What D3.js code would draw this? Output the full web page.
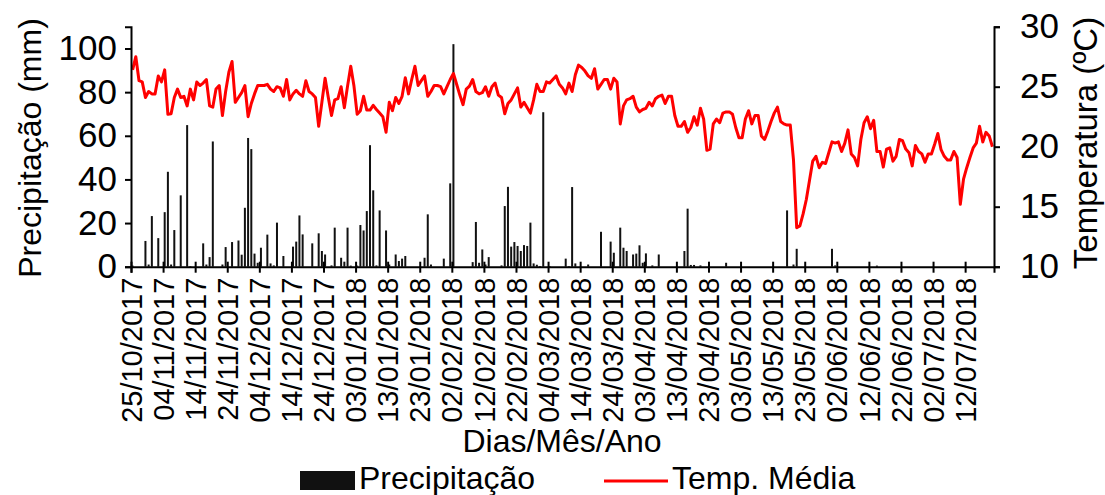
<!DOCTYPE html>
<html>
<head>
<meta charset="utf-8">
<script src="https://cdn.jsdelivr.net/npm/d3@7"></script>
<style>
  html, body { margin: 0; padding: 0; background: #fff; }
  svg { display: block; font-family: "Liberation Sans", Arial, sans-serif; }
</style>
</head>
<body>
<svg id="chart" width="1105" height="495"></svg>
<script>
// Daily series, 25/10/2017 to 20/07/2018 (one value per day)

// Daily rainfall (mm)
const precipitacao = [
  0.5,0,0,0,11.8,1,23.2,0,13.1,0,
  25,43.5,1,16.8,0,32.7,0,64.9,0.3,0,
  0,0,10.7,1,4.4,57.4,0,0,1,9,
  0,11.3,0,12,5.5,27,59,53.9,6,1.8,
  8.7,0,14.7,1.5,0.6,20.2,0,4.9,0,0,
  9.2,11.5,23.5,14.8,0,0,10.7,0,15.3,7.2,
  5.6,0,0.6,17.9,0,4.1,2.3,17.9,0.5,0,
  0.5,19.1,16.6,25.5,55.7,35,0.6,25.8,0,16.6,
  1,0,5.6,2.6,3.7,4.9,0,0,0,0,
  0,4.1,24,1,0,0,0,3.7,0,38.2,
  102,0,0,0,0,0,2.1,20.5,1.8,7.9,
  1,4.4,0,0,0,0.6,27.8,36.6,9.2,11.3,
  9.5,7.2,9.9,9.5,20.2,1.5,0.9,0.3,70.8,0,
  0.3,0,0,0,0,3.7,0.3,36.5,1.5,0,
  0,0,1,0,0,0,16,0,0,11.5,
  6.4,0,17.9,8.7,7.2,0,5.6,6,9.8,1.8,
  6.1,0,0.6,0,5.6,0,0,0,0,0,
  0,0,7.2,26.6,0.8,0.8,0,0.6,0,0,
  0,0,0,0,0,1.8,0,0,0,0,
  0,0,0,0,0,0,0,0,0,0,
  0,0,0,0,25.8,0,1,8.2,0,0,
  0,0,0,0,0,0,0,0,8.2,0.6,
  0,0,0,0,0,0,0,0,0,0,
  0,0,0.5,0,0,0,0,0,0,0,
  0,0,0,0,0,0,0,0,0,0,
  0,0,0,0,0,0,0,0,0,0,
  0,0,0,0,0,0,0,0,0
];

// Daily mean temperature (ºC)
const tempMedia = [
  26.4,27.5,25.5,25.4,24.1,24.6,24.4,24.4,25.9,25.4,
  26.4,22.7,22.75,24.1,24.8,24.1,24.2,23.4,24.8,23.9,
  25.4,25.1,25.3,25.6,23.4,23.3,24.8,25.1,22.6,24.6,
  26.2,27.1,23.7,24.1,24.5,25.1,22.5,23.6,24.4,25.1,
  25.1,25.1,25.2,24.8,24.6,25.0,24.9,24.2,25.6,23.9,
  24.4,24.7,24.4,24.2,25.5,24.6,24.4,24.1,21.7,23.7,
  25.7,24.1,22.6,23.9,24.0,25.0,23.25,25.05,26.7,25.05,
  22.7,23.0,24.2,23.05,23.05,23.45,23.1,22.8,22.5,21.2,
  23.7,23.0,24.1,23.6,24.2,25.75,24.4,25.6,26.7,25.1,
  25.5,25.9,24.2,24.6,25.1,25.1,25.0,24.4,25.0,25.6,
  26.1,25.2,24.3,23.5,24.8,25.05,25.6,24.6,24.4,24.5,
  25.0,24.2,25.0,25.3,24.3,24.1,22.75,23.6,23.9,24.4,
  24.9,23.3,23.7,23.25,22.8,23.9,25.2,24.6,24.6,25.4,
  25.3,25.6,25.9,25.2,24.9,24.4,25.3,24.6,26.0,26.8,
  26.6,26.3,25.9,25.7,26.5,24.8,25.2,25.6,25.6,24.8,
  25.7,25.4,21.9,23.4,23.9,24.0,24.2,23.3,22.9,23.1,
  23.2,23.7,23.4,24.0,24.2,24.3,23.6,24.2,24.2,22.6,
  21.7,21.7,22.1,21.2,21.6,22.5,21.8,23.2,22.3,19.7,
  19.8,21.9,22.3,22.0,22.8,22.9,22.9,22.7,21.6,20.75,
  20.75,22.3,23.0,21.9,22.6,22.6,20.9,20.6,21.3,22.1,
  22.8,23.3,22.1,21.9,21.8,21.8,18.9,13.25,13.4,14.4,
  15.6,17.2,18.8,19.2,18.25,18.7,18.6,19.5,20.4,20.3,
  20.4,19.6,20.3,21.4,19.4,19.1,18.4,20.6,22.0,22.5,
  21.5,22.2,19.6,19.6,18.3,19.8,19.9,18.8,19.2,20.6,
  20.5,19.8,19.5,18.4,20.1,19.6,19.4,18.7,19.4,19.4,
  20.2,21.1,19.75,19.2,18.9,18.9,19.6,19.1,15.2,17.3,
  18.25,19.1,19.9,20.3,21.7,20.4,21.2,20.9,20.0
];

// Date labels, one every 10 days
const tickLabels = [
  "25/10/2017","04/11/2017","14/11/2017","24/11/2017","04/12/2017","14/12/2017",
  "24/12/2017","03/01/2018","13/01/2018","23/01/2018","02/02/2018","12/02/2018",
  "22/02/2018","04/03/2018","14/03/2018","24/03/2018","03/04/2018","13/04/2018",
  "23/04/2018","03/05/2018","13/05/2018","23/05/2018","02/06/2018","12/06/2018",
  "22/06/2018","02/07/2018","12/07/2018"
];
const precipTicks = [0, 20, 40, 60, 80, 100];
const tempTicks = [10, 15, 20, 25, 30];

const svg = d3.select("#chart");
const plotLeft = 131, plotRight = 994, plotTop = 26.7, plotBottom = 266.7;
const nDays = tempMedia.length;

const x = d3.scaleLinear().domain([0, nDays]).range([plotLeft, plotRight]);
const yP = d3.scaleLinear().domain([0, 110]).range([plotBottom, plotTop]);
const yT = d3.scaleLinear().domain([10, 30]).range([plotBottom, plotTop]);

// Rainfall bars
svg.append("g")
  .selectAll("rect")
  .data(precipitacao)
  .join("rect")
  .attr("x", (d, i) => x(i + 0.5) - 1)
  .attr("width", 2)
  .attr("y", d => yP(d))
  .attr("height", d => yP(0) - yP(d))
  .attr("fill", "#111");

// Mean temperature line
svg.append("path")
  .datum(tempMedia)
  .attr("fill", "none")
  .attr("stroke", "#ff0000")
  .attr("stroke-width", 3)
  .attr("stroke-linejoin", "round")
  .attr("d", d3.line().x((d, i) => x(i + 0.5)).y(d => yT(d)));

// Bottom axis with rotated date labels
const gx = svg.append("g")
  .attr("transform", `translate(0,${plotBottom})`)
  .call(d3.axisBottom(x)
    .tickValues(d3.range(0, 261, 10))
    .tickFormat((d, i) => tickLabels[i])
    .tickSizeOuter(0)
    .tickSize(6));
gx.selectAll(".tick line").attr("y1", -5).attr("y2", 6);
gx.selectAll(".tick text")
  .attr("transform", "rotate(-90)")
  .attr("text-anchor", "end")
  .attr("x", -11)
  .attr("y", 0)
  .attr("dy", "0.35em")
  .style("font-size", "29px");

// Left axis: rainfall
const gl = svg.append("g")
  .attr("transform", `translate(${plotLeft},0)`)
  .call(d3.axisLeft(yP).tickValues(precipTicks).tickSizeOuter(0).tickSize(6).tickPadding(8));
gl.selectAll(".tick text").style("font-size", "35px");

// Right axis: temperature
const gr = svg.append("g")
  .attr("transform", `translate(${plotRight},0)`)
  .call(d3.axisRight(yT).tickValues(tempTicks).tickSizeOuter(0).tickSize(6).tickPadding(20));
gr.selectAll(".tick text").style("font-size", "35px");

svg.selectAll(".domain").attr("stroke", "#000").attr("stroke-width", 2);
svg.selectAll(".tick line").attr("stroke", "#000").attr("stroke-width", 2);
svg.selectAll(".tick text").attr("fill", "#000").attr("font-family", null);

// Axis titles
svg.append("text")
  .attr("transform", `translate(41,148) rotate(-90)`)
  .attr("text-anchor", "middle")
  .style("font-size", "32px")
  .text("Precipitação (mm)");

svg.append("text")
  .attr("transform", `translate(1097,143) rotate(-90)`)
  .attr("text-anchor", "middle")
  .style("font-size", "33px")
  .text("Temperatura (ºC)");

svg.append("text")
  .attr("x", 562).attr("y", 452)
  .attr("text-anchor", "middle")
  .style("font-size", "32px")
  .text("Dias/Mês/Ano");

// Legend
const legend = svg.append("g");
legend.append("rect").attr("x", 300).attr("y", 471).attr("width", 55).attr("height", 19).attr("fill", "#111");
legend.append("text").attr("x", 359).attr("y", 489).style("font-size", "32px").text("Precipitação");
legend.append("line").attr("x1", 604).attr("x2", 668).attr("y1", 481).attr("y2", 481)
  .attr("stroke", "#ff0000").attr("stroke-width", 3);
legend.append("text").attr("x", 672).attr("y", 489).style("font-size", "32px").text("Temp. Média");
</script>
</body>
</html>
